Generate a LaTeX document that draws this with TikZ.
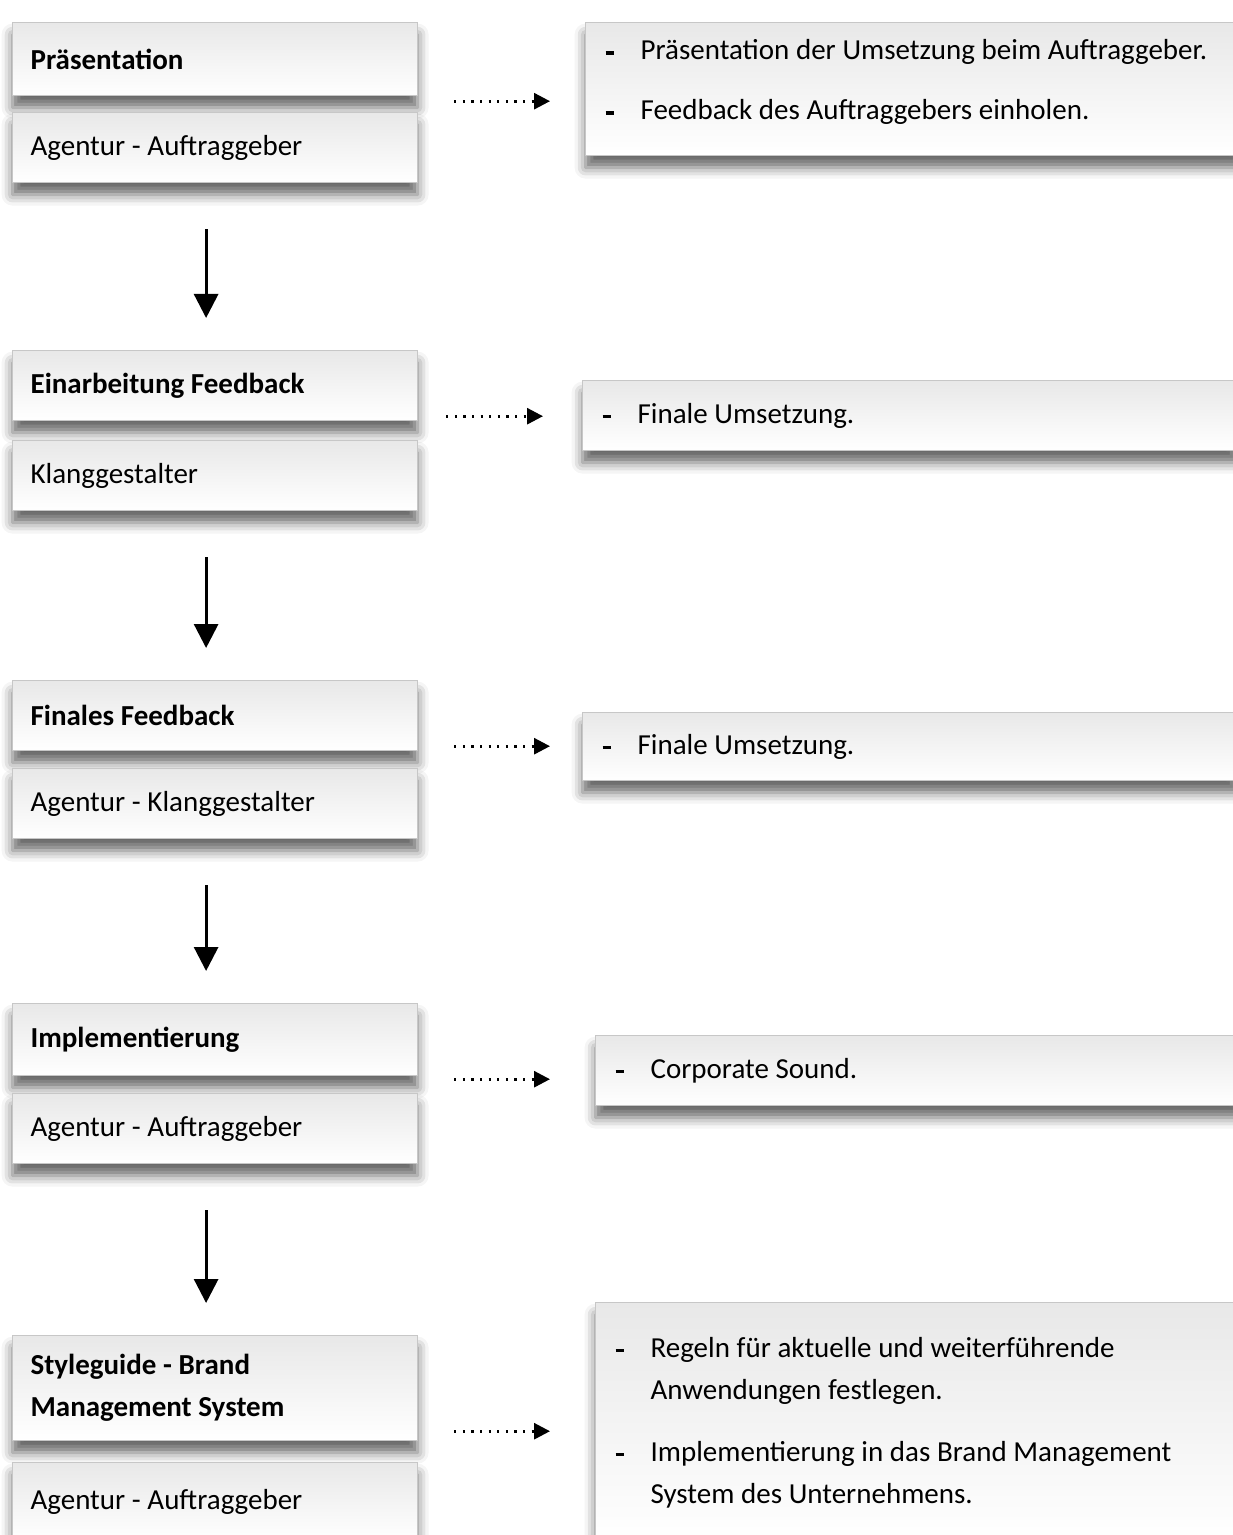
\documentclass[tikz,border=0pt]{standalone}
\usepackage{fontspec}
\setmainfont{Carlito}
\usetikzlibrary{arrows.meta,shadows.blur}

\newcommand{\punkt}[1]{\hangindent=17.5pt\hangafter=1\noindent\makebox[17.5pt][l]{\rule[2.5pt]{4pt}{1.6pt}}#1}

\tikzset{
    karte/.style={draw=black!22, line width=.6pt, top color=black!9, bottom color=white,
        anchor=north west, inner ysep=0pt, align=left, font=\fontsize{14.5}{21}\selectfont,
        execute at begin node={\spaceskip=0.23em\relax},
        blur shadow={shadow xshift=0pt, shadow yshift=-6pt, shadow opacity=60, shadow blur radius=5.5pt}},
    links/.style={karte, inner xsep=9pt, text width=184.5pt},
    titel/.style={links, font=\fontsize{14.5}{21}\selectfont\bfseries},
    info/.style={karte, inner xsep=10pt, text width=#1},
    info/.default=307.5pt,
    zeiger/.style={line width=1.4pt, dash pattern=on 1.1pt off 3.2pt, -{Triangle[length=8pt,width=8pt]},
        shorten <=18pt, shorten >=#1},
    zeiger/.default=17.5pt,
    runter/.style={line width=1.5pt, -{Triangle[length=12pt,width=12pt]}, shorten <=23pt, shorten >=16pt}
}

\begin{document}
\begin{tikzpicture}[x=0.5pt, y=-0.5pt]
    \useasboundingbox (0,0) rectangle (1232,1535);

    \node[titel, minimum height=36.5pt] (Praesentation node) at (12,22) {Präsentation};
    \node[links, minimum height=35pt] (Praesentation sub) at (12,112) {Agentur - Auftraggeber};
    \node[info, minimum height=66.5pt] (Praesentation info) at (585,22) {%
        \punkt{Präsentation der Umsetzung beim Auftraggeber.}\par\vspace{9pt}%
        \punkt{Feedback des Auftraggebers einholen.}\par\kern7pt};

    \node[titel, minimum height=35pt] (Einarbeitung node) at (12,350) {Einarbeitung Feedback};
    \node[links, minimum height=35pt] (Einarbeitung sub) at (12,440) {Klanggestalter};
    \node[info, minimum height=35pt] (Einarbeitung info) at (582,380) {\punkt{Finale Umsetzung.}};

    \node[titel, minimum height=35pt] (Finales node) at (12,680) {Finales Feedback};
    \node[links, minimum height=35pt] (Finales sub) at (12,768) {Agentur - Klanggestalter};
    \node[info, minimum height=34pt] (Finales info) at (582,712) {\punkt{Finale Umsetzung.}};

    \node[titel, minimum height=36pt] (Implementierung node) at (12,1003) {Implementierung};
    \node[links, minimum height=35pt] (Implementierung sub) at (12,1093) {Agentur - Auftraggeber};
    \node[info=302.5pt, minimum height=35pt] (Implementierung info) at (595,1035) {\punkt{Corporate Sound.}};

    \node[titel, minimum height=52.5pt] (Styleguide node) at (12,1335) {Styleguide - Brand\\Management System};
    \node[links, minimum height=39pt] (Styleguide sub) at (12,1462) {Agentur - Auftraggeber};
    \node[info=302.5pt, minimum height=120pt] (Styleguide info) at (595,1302) {%
        \punkt{Regeln für aktuelle und weiterführende\newline Anwendungen festlegen.}\par\vspace{10pt}%
        \punkt{Implementierung in das Brand Management\newline System des Unternehmens.}\par};

    \coordinate (Praesentation arrow) at ([yshift=-2.5pt]Praesentation node.south east);
    \coordinate (Einarbeitung arrow) at ([yshift=2.5pt,xshift=-4pt]Einarbeitung node.south east);
    \coordinate (Finales arrow) at ([yshift=2.5pt]Finales node.south east);
    \coordinate (Implementierung arrow) at ([yshift=-1.5pt]Implementierung node.south east);
    \coordinate (Styleguide arrow) at ([yshift=5pt]Styleguide node.south east);

    \draw[zeiger] (Praesentation arrow) -- (Praesentation arrow -| Praesentation info.west);
    \draw[zeiger=19.5pt] (Einarbeitung arrow) -- (Einarbeitung arrow -| Einarbeitung info.west);
    \draw[zeiger=16pt] (Finales arrow) -- (Finales arrow -| Finales info.west);
    \draw[zeiger=22.5pt] (Implementierung arrow) -- (Implementierung arrow -| Implementierung info.west);
    \draw[zeiger=22.5pt] (Styleguide arrow) -- (Styleguide arrow -| Styleguide info.west);

    \draw[runter] ([xshift=-4.5pt]Praesentation sub.south) -- ([xshift=-4.5pt]Einarbeitung node.north);
    \draw[runter] ([xshift=-4.5pt]Einarbeitung sub.south) -- ([xshift=-4.5pt]Finales node.north);
    \draw[runter] ([xshift=-4.5pt]Finales sub.south) -- ([xshift=-4.5pt]Implementierung node.north);
    \draw[runter] ([xshift=-4.5pt]Implementierung sub.south) -- ([xshift=-4.5pt]Styleguide node.north);
\end{tikzpicture}
\end{document}
